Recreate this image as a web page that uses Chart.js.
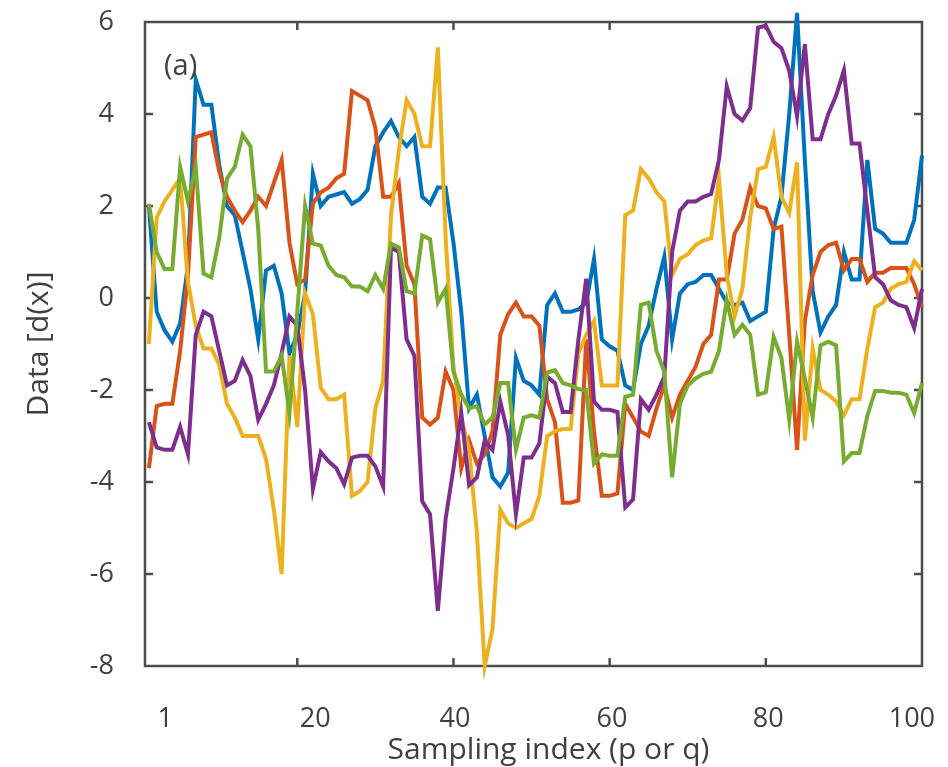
<!DOCTYPE html>
<html>
<head>
<meta charset="utf-8">
<script src="https://cdn.jsdelivr.net/npm/chart.js@4.4.1/dist/chart.umd.min.js"></script>
<style>
  html, body { margin: 0; padding: 0; background: #fff; }
  #wrap { width: 948px; height: 767px; }
</style>
</head>
<body>
<div id="wrap"><canvas id="dataChart" width="948" height="767"></canvas></div>
<script>
// sampling index 1..100
const sampleIndex = Array.from({ length: 100 }, (_, i) => i + 1);

// five data curves
const seriesBlue = [
  2.0, -0.3, -0.7, -0.95, -0.55, 0.7, 4.75, 4.2, 4.2, 2.9,
  2.0, 1.8, 1.0, 0.2, -0.9, 0.6, 0.7, 0.1, -1.2, -0.8,
  0.1, 2.7, 2.0, 2.2, 2.25, 2.3, 2.05, 2.15, 2.35, 3.3,
  3.6, 3.85, 3.5, 3.3, 3.5, 2.2, 2.05, 2.4, 2.4, 1.2,
  -0.3, -2.4, -2.1, -3.0, -3.9, -4.1, -3.8, -1.3, -1.8, -1.9,
  -2.1, -0.15, 0.1, -0.3, -0.3, -0.25, -0.1, 0.85, -0.9, -1.05,
  -1.15, -1.9, -2.0, -1.0, -0.6, 0.2, 0.9, -0.9, 0.1, 0.3,
  0.35, 0.5, 0.5, 0.2, -0.1, -0.15, -0.1, -0.5, -0.4, -0.3,
  1.5, 2.2, 4.0, 6.2, 3.0, 0.15, -0.75, -0.4, -0.15, 1.0,
  0.4, 0.4, 3.0, 1.5, 1.4, 1.2, 1.2, 1.2, 1.7, 3.1
];
const seriesOrange = [
  -3.7, -2.35, -2.3, -2.3, -1.15, 0.5, 3.5, 3.55, 3.6, 2.75,
  2.2, 1.9, 1.65, 1.9, 2.2, 2.0, 2.5, 3.0, 1.2, 0.3,
  0.4, 2.05, 2.3, 2.4, 2.6, 2.7, 4.5, 4.4, 4.3, 3.7,
  2.2, 2.2, 2.5, 0.7, 0.3, -2.6, -2.75, -2.6, -1.6, -2.0,
  -3.7, -3.1, -3.6, -3.4, -2.9, -0.8, -0.35, -0.1, -0.4, -0.4,
  -0.6, -2.2, -2.7, -4.45, -4.45, -4.4, -0.9, -2.9, -4.3, -4.3,
  -4.25, -2.3, -2.6, -2.9, -3.0, -2.4, -1.9, -2.6, -2.1, -1.8,
  -1.5, -1.0, -0.8, 0.4, 0.4, 1.4, 1.7, 2.4, 2.0, 1.95,
  1.5, 1.55, -0.8, -3.3, -0.5, 0.5, 1.0, 1.15, 1.2, 0.6,
  0.85, 0.85, 0.35, 0.55, 0.55, 0.65, 0.65, 0.65, 0.3, -0.2
];
const seriesYellow = [
  -1.0, 1.75, 2.1, 2.35, 2.6, 0.35, -0.6, -1.1, -1.1, -1.45,
  -2.3, -2.6, -3.0, -3.0, -3.0, -3.5, -4.6, -6.0, -1.25, -2.8,
  0.1, -0.35, -1.95, -2.2, -2.2, -2.1, -4.3, -4.2, -4.0, -2.4,
  -1.8, 1.8, 3.2, 4.3, 4.0, 3.3, 3.3, 5.45, 1.3, -1.5,
  -2.6, -3.3, -5.1, -8.0, -7.2, -4.6, -4.9, -5.0, -4.9, -4.8,
  -4.3, -3.0, -2.9, -2.85, -2.85, -1.2, -0.8, -0.5, -1.9, -1.9,
  -1.9, 1.8, 1.9, 2.8, 2.6, 2.3, 2.1, 0.5, 0.85, 0.95,
  1.15, 1.25, 1.3, 2.6, 0.5, -0.4, 0.2, 1.75, 2.8, 2.85,
  3.5, 2.2, 1.85, 2.95, -3.1, -1.1, -2.0, -2.1, -2.25, -2.55,
  -2.2, -2.2, -1.1, -0.2, -0.1, 0.2, 0.3, 0.35, 0.8, 0.6
];
const seriesPurple = [
  -2.7, -3.25, -3.3, -3.3, -2.8, -3.4, -0.8, -0.3, -0.4, -1.15,
  -1.9, -1.8, -1.35, -1.7, -2.65, -2.3, -1.9, -1.2, -0.4, -0.6,
  -2.0, -4.15, -3.35, -3.55, -3.7, -4.05, -3.47, -3.43, -3.43, -3.66,
  -4.1, 1.1, 1.0, -0.9, -1.26, -4.42, -4.7, -6.8, -4.8, -3.7,
  -2.5, -4.07, -3.9, -3.1, -3.3, -2.25, -2.98, -4.7, -3.47, -3.47,
  -3.16, -1.71, -1.85, -2.48, -2.48, -0.9, 0.42, -2.25, -2.43, -2.43,
  -2.48, -4.55, -4.38, -2.2, -2.43, -2.1, -1.71, 1.0, 1.9, 2.1,
  2.1, 2.2, 2.26, 3.0, 4.6, 4.0, 3.86, 4.13, 5.88, 5.92,
  5.57, 5.43, 4.94, 3.95, 5.52, 3.45, 3.45, 4.0, 4.4, 4.95,
  3.36, 3.36, 1.9, 0.45, 0.3, -0.05, -0.15, -0.2, -0.65, 0.2
];
const seriesGreen = [
  2.05, 1.0, 0.63, 0.63, 2.85, 2.1, 2.85, 0.53, 0.45, 1.3,
  2.6, 2.85, 3.55, 3.3, 1.5, -1.6, -1.6, -1.25, -2.5, -0.3,
  2.0, 1.18, 1.14, 0.7, 0.5, 0.45, 0.25, 0.25, 0.15, 0.5,
  0.2, 1.18, 1.1, 0.15, 0.1, 1.36, 1.28, -0.1, 0.2, -1.6,
  -2.1, -2.4, -2.35, -2.75, -2.6, -1.85, -1.85, -3.3, -2.6, -2.55,
  -2.6, -1.62, -1.57, -1.85, -1.9, -1.98, -2.0, -3.6, -3.4, -3.43,
  -3.43, -2.15, -2.1, -0.15, -0.1, -1.15, -1.6, -3.9, -2.3, -1.9,
  -1.75, -1.65, -1.6, -1.15, -0.05, -0.8, -0.58, -0.8, -2.1, -2.05,
  -0.85, -1.3, -2.65, -0.95, -1.75, -2.6, -1.03, -0.95, -1.03, -3.55,
  -3.37, -3.37, -2.56, -2.02, -2.02, -2.06, -2.06, -2.1, -2.5, -1.85
];

// axis ticks
const yTickValues = [6, 4, 2, 0, -2, -4, -6, -8];
const xTickValues = [3.1, 22.3, 40.2, 60.3, 80.3, 98.7];
const xTickLabels = ['1', '20', '40', '60', '80', '100'];
const xMarkValues = [20, 40, 60, 80];
const yMarkValues = [4, 2, 0, -2, -4, -6];

const AXIS_COLOR = '#4d4d4d';
const TEXT_COLOR = '#404040';
const FONT = "'Open Sans', sans-serif";

function toPoints(values) {
    return values.map((v, i) => ({ x: sampleIndex[i], y: v }));
}

function lineSet(label, values, color, order) {
    return {
        label: label,
        data: toPoints(values),
        borderColor: color,
        backgroundColor: color,
        borderWidth: 4,
        pointRadius: 0,
        tension: 0,
        clip: false,
        borderJoinStyle: 'miter',
        order: order
    };
}

// box, inward tick marks, panel tag and x title
const frameTicks = {
    id: 'frameTicks',
    beforeDatasetsDraw(chart) {
        const { ctx, chartArea: a, scales } = chart;
        const tickLen = 8;
        ctx.save();
        ctx.strokeStyle = AXIS_COLOR;
        ctx.lineWidth = 2.5;
        ctx.strokeRect(a.left, a.top, a.right - a.left, a.bottom - a.top);
        ctx.beginPath();
        xMarkValues.forEach(v => {
            const px = scales.x.getPixelForValue(v);
            ctx.moveTo(px, a.bottom); ctx.lineTo(px, a.bottom - tickLen);
            ctx.moveTo(px, a.top); ctx.lineTo(px, a.top + tickLen);
        });
        yMarkValues.forEach(v => {
            const py = scales.y.getPixelForValue(v);
            ctx.moveTo(a.left, py); ctx.lineTo(a.left + tickLen, py);
            ctx.moveTo(a.right, py); ctx.lineTo(a.right - tickLen, py);
        });
        ctx.stroke();
        ctx.restore();
    },
    afterDatasetsDraw(chart) {
        const { ctx, chartArea: a } = chart;
        ctx.save();
        ctx.fillStyle = TEXT_COLOR;
        ctx.font = "29px " + FONT;
        ctx.textAlign = 'left';
        ctx.textBaseline = 'middle';
        ctx.fillText('(a)', a.left + 19, a.top + 45);
        ctx.restore();
    },
    afterDraw(chart) {
        const { ctx, chartArea: a } = chart;
        ctx.save();
        ctx.fillStyle = TEXT_COLOR;
        ctx.font = "30px " + FONT;
        ctx.textAlign = 'center';
        ctx.textBaseline = 'alphabetic';
        ctx.fillText('Sampling index (p or q)', (a.left + a.right) / 2 + 15, 759);
        ctx.restore();
    }
};

function initializeChart() {
    const ctx = document.getElementById('dataChart');
    if (!ctx) return;

    new Chart(ctx, {
        type: 'line',
        data: {
            datasets: [
                lineSet('d1', seriesBlue, '#0072BD', 4),
                lineSet('d2', seriesOrange, '#D95319', 3),
                lineSet('d3', seriesYellow, '#EDB120', 2),
                lineSet('d4', seriesPurple, '#7E2F8E', 1),
                lineSet('d5', seriesGreen, '#77AC30', 0)
            ]
        },
        options: {
            responsive: false,
            devicePixelRatio: 1,
            animation: false,
            layout: { padding: { left: 0, right: 26, top: 22, bottom: 0 } },
            plugins: {
                legend: { display: false },
                tooltip: { enabled: false }
            },
            scales: {
                x: {
                    type: 'linear',
                    min: 0.5,
                    max: 100,
                    grid: { display: false },
                    border: { display: false },
                    afterBuildTicks: axis => {
                        axis.ticks = xTickValues.map(v => ({ value: v }));
                    },
                    afterFit: scale => {
                        scale.height = 101;
                        scale.paddingLeft = 0;
                        scale.paddingRight = 0;
                    },
                    ticks: {
                        autoSkip: false,
                        maxRotation: 0,
                        padding: 29,
                        color: TEXT_COLOR,
                        font: { family: FONT, size: 27 },
                        callback: (value, index) => xTickLabels[index]
                    }
                },
                y: {
                    min: -8,
                    max: 6,
                    grid: { display: false },
                    border: { display: false },
                    afterBuildTicks: axis => {
                        axis.ticks = yTickValues.map(v => ({ value: v }));
                    },
                    afterFit: scale => {
                        scale.width = 145;
                        scale.paddingTop = 0;
                        scale.paddingBottom = 0;
                    },
                    ticks: {
                        padding: 23,
                        color: TEXT_COLOR,
                        font: { family: FONT, size: 27 }
                    },
                    title: {
                        display: true,
                        text: 'Data [d(x)]',
                        color: TEXT_COLOR,
                        font: { family: FONT, size: 30 },
                        padding: { top: 21, bottom: 0 }
                    }
                }
            }
        },
        plugins: [frameTicks]
    });
}

initializeChart();
</script>
</body>
</html>
